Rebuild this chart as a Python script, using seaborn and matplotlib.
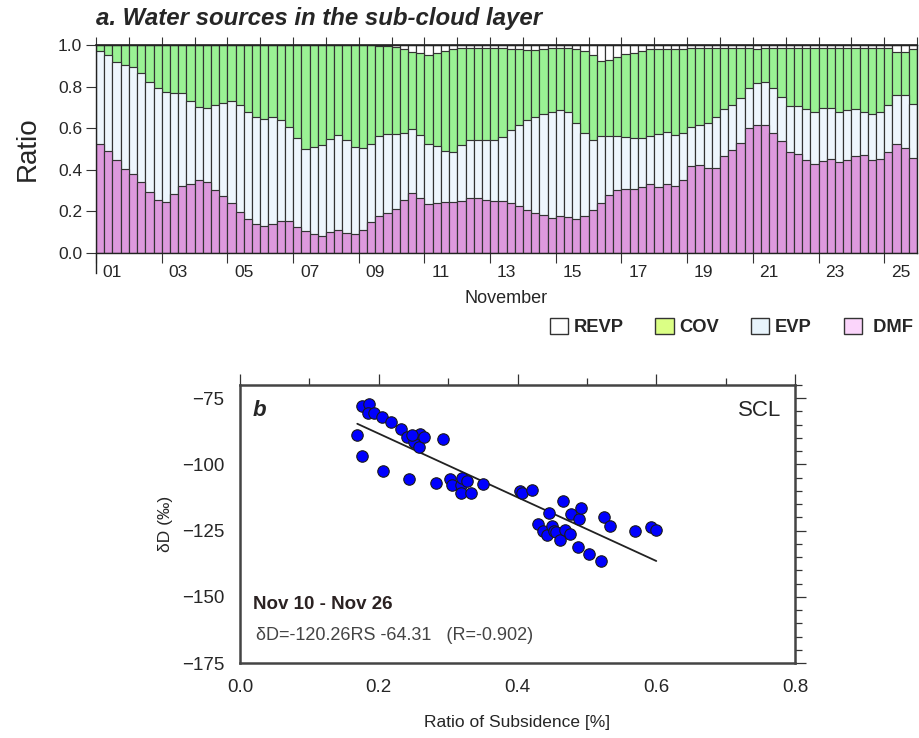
import numpy as np
import pandas as pd
import matplotlib
matplotlib.use("Agg")
import matplotlib.pyplot as plt
import seaborn as sns
from matplotlib.patches import Patch
from matplotlib.ticker import MultipleLocator, FormatStrFormatter

# ---------------- data: panel a (6-hourly, Nov 1 00:00 .. Nov 25 18:00) ----------------
DMF = [0.526,0.491,0.446,0.406,0.379,0.342,0.294,0.257,0.246,0.286,
       0.321,0.331,0.353,0.342,0.305,0.273,0.241,0.197,0.165,0.141,
       0.128,0.141,0.154,0.154,0.125,0.106,0.090,0.080,0.101,0.112,
       0.098,0.093,0.109,0.149,0.178,0.193,0.213,0.257,0.289,0.262,
       0.234,0.241,0.246,0.246,0.250,0.262,0.262,0.254,0.250,0.250,
       0.238,0.225,0.205,0.193,0.181,0.169,0.177,0.173,0.165,0.177,
       0.205,0.241,0.278,0.302,0.308,0.310,0.318,0.334,0.315,0.331,
       0.321,0.350,0.417,0.422,0.411,0.411,0.465,0.494,0.530,0.599,
       0.615,0.615,0.578,0.539,0.486,0.478,0.449,0.430,0.443,0.454,
       0.438,0.449,0.465,0.470,0.449,0.454,0.486,0.526,0.507,0.459]
EVP = [0.447,0.461,0.474,0.498,0.517,0.525,0.529,0.534,0.529,0.484,
       0.446,0.399,0.347,0.353,0.406,0.449,0.491,0.514,0.514,0.511,
       0.514,0.511,0.485,0.453,0.426,0.396,0.420,0.438,0.445,0.455,
       0.445,0.417,0.398,0.377,0.384,0.378,0.358,0.321,0.305,0.305,
       0.289,0.273,0.245,0.240,0.268,0.281,0.281,0.289,0.293,0.309,
       0.353,0.390,0.434,0.462,0.487,0.510,0.510,0.506,0.458,0.398,
       0.338,0.321,0.284,0.260,0.251,0.245,0.233,0.228,0.256,0.252,
       0.246,0.225,0.190,0.193,0.212,0.241,0.225,0.217,0.213,0.192,
       0.200,0.208,0.213,0.212,0.220,0.228,0.241,0.249,0.252,0.241,
       0.241,0.238,0.227,0.209,0.219,0.225,0.225,0.233,0.252,0.257]
COV = [0.027,0.048,0.080,0.096,0.104,0.133,0.177,0.209,0.225,0.230,
       0.233,0.270,0.300,0.305,0.289,0.278,0.268,0.289,0.321,0.348,
       0.358,0.348,0.361,0.393,0.449,0.498,0.490,0.482,0.454,0.433,
       0.457,0.490,0.493,0.474,0.435,0.424,0.421,0.401,0.374,0.396,
       0.429,0.446,0.482,0.493,0.466,0.441,0.441,0.441,0.441,0.425,
       0.388,0.364,0.337,0.321,0.311,0.305,0.297,0.305,0.356,0.398,
       0.409,0.363,0.366,0.382,0.398,0.408,0.422,0.417,0.408,0.396,
       0.412,0.404,0.377,0.369,0.361,0.332,0.294,0.273,0.241,0.193,
       0.164,0.161,0.193,0.233,0.278,0.278,0.294,0.305,0.289,0.289,
       0.305,0.297,0.292,0.305,0.316,0.305,0.273,0.209,0.209,0.263]
REVP = [0,0,0,0,0,0,0,0,0,0,
        0,0,0,0,0,0,0,0,0,0,
        0,0,0,0,0,0,0,0,0,0,
        0,0,0,0,0.003,0.005,0.008,0.021,0.032,0.037,
        0.048,0.040,0.027,0.021,0.016,0.016,0.016,0.016,0.016,0.016,
        0.021,0.021,0.024,0.024,0.021,0.016,0.016,0.016,0.021,0.027,
        0.048,0.075,0.072,0.056,0.043,0.037,0.027,0.021,0.021,0.021,
        0.021,0.021,0.016,0.016,0.016,0.016,0.016,0.016,0.016,0.016,
        0.021,0.016,0.016,0.016,0.016,0.016,0.016,0.016,0.016,0.016,
        0.016,0.016,0.016,0.016,0.016,0.016,0.016,0.032,0.032,0.021]
DAY_LABELS = ["01","03","05","07","09","11","13","15","17","19","21","23","25"]
LEGEND_NAMES = ["REVP", "COV", "EVP", " DMF"]

# ---------------- data: panel b ----------------
RS = [0.169,0.176,0.186,0.184,0.193,0.204,0.218,0.232,0.176,0.206,
      0.240,0.251,0.258,0.260,0.265,0.248,0.292,0.244,0.283,0.303,
      0.306,0.318,0.320,0.327,0.318,0.333,0.350,0.403,0.407,0.421,
      0.465,0.446,0.430,0.436,0.442,0.449,0.452,0.456,0.461,0.468,
      0.475,0.477,0.488,0.491,0.487,0.503,0.521,0.525,0.533,0.570,
      0.592,0.600]
DD = [-88.8,-77.9,-77.0,-80.7,-80.4,-81.9,-83.8,-86.6,-96.9,-102.4,
      -89.8,-91.7,-93.6,-88.6,-89.8,-89.0,-90.5,-105.6,-107.1,-105.6,
      -107.9,-107.9,-105.3,-106.2,-110.6,-110.9,-107.5,-110.0,-110.9,-109.7,
      -113.7,-118.4,-122.5,-125.1,-126.7,-123.2,-125.1,-125.7,-128.5,-124.7,
      -126.3,-118.8,-120.7,-116.4,-131.3,-133.9,-136.4,-119.8,-123.4,-125.1,
      -123.8,-124.7]
SLOPE = -120.26
INTERCEPT = -64.31
R_VALUE = -0.902

# ---------------- styling ----------------
sns.set_theme(style="white")
plt.rcParams["font.family"] = ["Liberation Sans", "DejaVu Sans"]
plt.rcParams["axes.unicode_minus"] = True

C_REVP, C_COV, C_EVP, C_DMF = "#ffffff", "#9af294", "#eef6fd", "#dd99dd"
L_REVP, L_COV, L_EVP, L_DMF = "#ffffff", "#dbff85", "#e8f4fc", "#fbd5fb"

fig = plt.figure(figsize=(9.19, 7.38), dpi=100)

# ---------------- panel a ----------------
ax1 = fig.add_axes([0.1045, 0.6572, 0.8934, 0.2818])
n = len(DMF)
slots = np.arange(n)
dmf = np.array(DMF)
c_evp = dmf + np.array(EVP)
c_cov = c_evp + np.array(COV)
c_all = c_cov + np.array(REVP)
for vals, col in [(c_all, C_REVP), (c_cov, C_COV), (c_evp, C_EVP), (dmf, C_DMF)]:
    sns.barplot(x=slots, y=vals, color=col, width=1.0, saturation=1,
                edgecolor="#333333", linewidth=0.85, errorbar=None, ax=ax1)

ax1.set_xlim(-0.5, n - 0.5)
ax1.set_ylim(0, 1.0)
ax1.set_yticks(np.arange(0, 1.01, 0.2))
ax1.yaxis.set_major_formatter(FormatStrFormatter("%.1f"))
ax1.tick_params(axis="y", length=7, width=0.8, color="#333", labelsize=12.5, pad=3, left=True)

centers = 1.5 + 8 * np.arange(len(DAY_LABELS))
odd_starts = -0.5 + 8 * np.arange(len(DAY_LABELS))
ax1.set_xticks(centers)
ax1.set_xticklabels(DAY_LABELS)
ax1.set_xticks(odd_starts, minor=True)
ax1.tick_params(axis="x", which="major", length=0, labelsize=12.5, pad=9)
ax1.tick_params(axis="x", which="minor", length=7, width=0.8, color="#333",
                bottom=True, direction="out")
sec = ax1.secondary_xaxis("top")
sec.set_xticks(-0.5 + 4 * np.arange(26))
sec.set_xticklabels([])
sec.tick_params(length=6, width=0.8, color="#333", direction="out")
sec.spines["top"].set_linewidth(1.2)

for s in ax1.spines.values():
    s.set_color("#222")
    s.set_linewidth(1.0)
ax1.spines["left"].set_bounds(-0.095, 1.0)

ax1.set_xlabel("November", fontsize=13, labelpad=7)
ax1.set_ylabel("Ratio", fontsize=20, labelpad=12)
fig.text(0.1045, 1 - 19 / 738, "a. Water sources in the sub-cloud layer",
         fontsize=17.3, fontweight="bold", fontstyle="italic", va="center", ha="left")

handles = [Patch(facecolor=c, edgecolor="#333", linewidth=1.0) for c in [L_REVP, L_COV, L_EVP, L_DMF]]
fig.legend(handles, LEGEND_NAMES, ncol=4, loc="center", bbox_to_anchor=(0.7955, 0.557),
           frameon=False, prop={"weight": "bold", "size": 13.2}, handlelength=1.0,
           handleheight=1.0, handletextpad=0.3, columnspacing=1.75)

# ---------------- panel b ----------------
ax2 = fig.add_axes([0.2612, 0.1016, 0.6039, 0.3767])
sns.scatterplot(x=RS, y=DD, color="#0000ff", edgecolor="#1a1a1a", linewidth=0.8,
                s=68, ax=ax2, zorder=3)
xs = np.array([min(RS), max(RS)])
sns.lineplot(x=xs, y=SLOPE * xs + INTERCEPT, color="#222222", linewidth=1.3, ax=ax2, zorder=2)

ax2.set_xlim(0, 0.8)
ax2.set_ylim(-175, -70)
ax2.set_xticks([0.0, 0.2, 0.4, 0.6, 0.8])
ax2.xaxis.set_major_formatter(FormatStrFormatter("%.1f"))
ax2.set_yticks([-175, -150, -125, -100, -75])
ax2.xaxis.set_minor_locator(MultipleLocator(0.1))
ax2.yaxis.set_minor_locator(MultipleLocator(5))
ax2.tick_params(which="both", direction="out", top=True, right=True,
                labeltop=False, labelright=False, color="#333", width=0.9)
ax2.tick_params(which="major", length=8, labelsize=13.5)
ax2.tick_params(which="minor", length=5)
for s in ax2.spines.values():
    s.set_color("#444")
    s.set_linewidth(1.8)

ax2.set_xlabel("Ratio of Subsidence [%]", fontsize=12.5, labelpad=14)
ax2.set_ylabel("δD (‰)", fontsize=12.5, labelpad=6)

ax2.text(0.022, 0.91, "b", transform=ax2.transAxes, fontsize=16, fontweight="bold",
         fontstyle="italic", va="center", ha="left")
ax2.text(0.975, 0.91, "SCL", transform=ax2.transAxes, fontsize=16, va="center", ha="right")
ax2.text(0.023, 0.209, "Nov 10 - Nov 26", transform=ax2.transAxes, fontsize=13.5,
         fontweight="bold", color="#2b2222", va="center", ha="left")
ax2.text(0.028, 0.10, f"δD={SLOPE}RS {INTERCEPT}   (R={R_VALUE})", transform=ax2.transAxes,
         fontsize=13, color="#444444", va="center", ha="left")

fig.savefig("out.png", dpi=100)
